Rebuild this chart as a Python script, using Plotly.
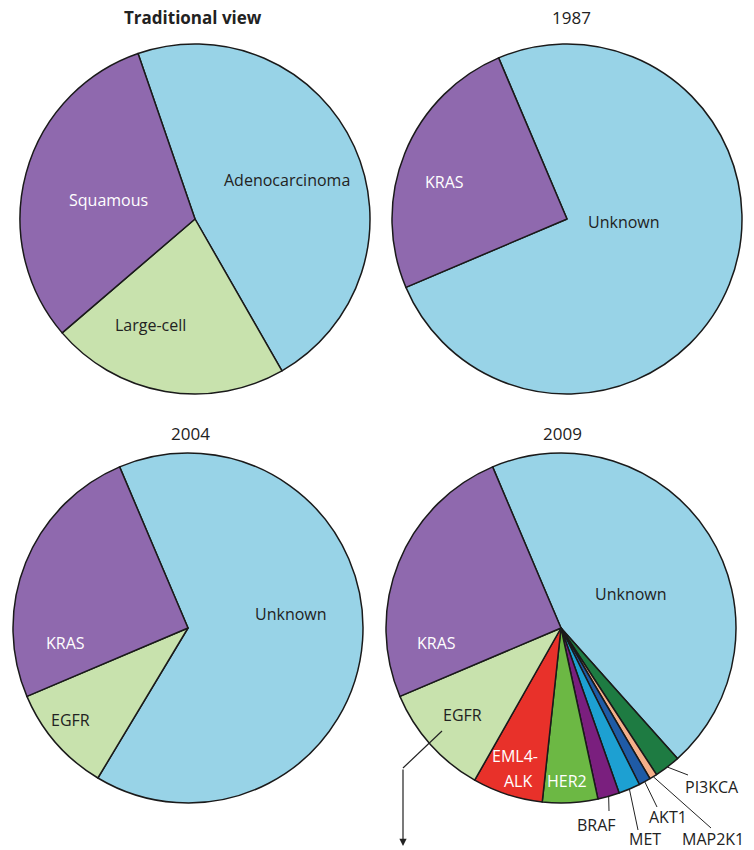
import math
import plotly.graph_objects as go

W, H = 754, 850

# ---------------- data ----------------
trad_labels = ["Adenocarcinoma", "Large-cell", "Squamous"]
trad_values = [47, 22, 31]

y1987_labels = ["Unknown", "KRAS"]
y1987_values = [75, 25]

y2004_labels = ["Unknown", "EGFR", "KRAS"]
y2004_values = [65, 10, 25]

y2009_labels = ["Unknown", "PI3KCA", "MAP2K1", "AKT1", "MET", "BRAF",
                "HER2", "EML4-ALK", "EGFR", "KRAS"]
y2009_values = [44.8, 2.4, 0.7, 1.1, 2.0, 2.0, 5.1, 6.5, 10.4, 25.0]

titles = ["Traditional view", "1987", "2004", "2009"]

# ---------------- styles ----------------
C_BLUE = "#98D3E7"
C_PURPLE = "#8F69AE"
C_LGREEN = "#C8E2AD"
colors = {
    "Adenocarcinoma": C_BLUE, "Unknown": C_BLUE,
    "Squamous": C_PURPLE, "KRAS": C_PURPLE,
    "Large-cell": C_LGREEN, "EGFR": C_LGREEN,
    "EML4-ALK": "#E8312A", "HER2": "#6CB844", "BRAF": "#7A1F7E",
    "MET": "#1DA0D2", "AKT1": "#1F5BA6", "MAP2K1": "#F5B08A",
    "PI3KCA": "#1E7B42",
}
FONT = "Open Sans"
FS = 16
R = 175
pies = [
    dict(labels=trad_labels, values=trad_values, cx=195, cy=219, rot=341),
    dict(labels=y1987_labels, values=y1987_values, cx=567, cy=219, rot=337),
    dict(labels=y2004_labels, values=y2004_values, cx=188, cy=628, rot=337),
    dict(labels=y2009_labels, values=y2009_values, cx=561, cy=628, rot=337),
]
title_pos = [(193, 17), (571, 18), (190, 433), (562, 433)]


def px(x, y):
    return x / W, 1 - y / H


fig = go.Figure()
for p in pies:
    x0, y1 = px(p["cx"] - R, p["cy"] - R)
    x1, y0 = px(p["cx"] + R, p["cy"] + R)
    fig.add_trace(go.Pie(
        labels=p["labels"], values=p["values"], sort=False,
        direction="clockwise", rotation=p["rot"],
        marker=dict(colors=[colors[l] for l in p["labels"]],
                    line=dict(color="#1a1a1a", width=1.5)),
        textinfo="none", domain=dict(x=[x0, x1], y=[y0, y1]),
        showlegend=False,
    ))

annotations = []


def label(t, x, y, color="#222", size=FS):
    X, Y = px(x, y)
    annotations.append(dict(
        x=X, y=Y, xref="paper", yref="paper", showarrow=False,
        xanchor="center", yanchor="middle", text=t,
        font=dict(family=FONT, size=size, color=color)))


for t, (x, y) in zip(titles, title_pos):
    label(f"<b>{t}</b>" if t == "Traditional view" else t, x, y, size=17)

# inside labels (text, x, y, color)
inside = [
    ("Squamous", 108, 200, "white"), ("Adenocarcinoma", 287, 180, "#222"),
    ("Large-cell", 150, 325, "#222"),
    ("KRAS", 444, 182, "white"), ("Unknown", 624, 222, "#222"),
    ("KRAS", 65, 643, "white"), ("EGFR", 70, 720, "#222"),
    ("Unknown", 291, 614, "#222"),
    ("KRAS", 436, 643, "white"), ("Unknown", 631, 594, "#222"),
    ("EGFR", 462, 715, "#222"),
    ("EML4-", 515, 756, "white"), ("ALK", 518, 781, "white"),
    ("HER2", 567, 781, "white"),
]
for t, x, y, c in inside:
    label(t, x, y, c)

# outside labels for 2009 with leader lines
p = pies[3]
total = sum(p["values"])
mid = {}
cum = 0
for l, v in zip(p["labels"], p["values"]):
    a = math.radians(p["rot"] + (cum + v / 2) / total * 360)
    mid[l] = (p["cx"] + R * math.sin(a), p["cy"] - R * math.cos(a))
    cum += v

outside = [  # label, text position, leader end
    ("BRAF", (596, 825), (609, 811)),
    ("MET", (645, 839), (638, 830)),
    ("AKT1", (668, 817), (657, 807)),
    ("MAP2K1", (713, 839), (711, 828)),
    ("PI3KCA", (712, 787), (688, 775)),
]
shapes = []
for l, (tx, ty), (ex, ey) in outside:
    sx, sy = mid[l]
    a0 = px(sx, sy)
    a1 = px(ex, ey)
    shapes.append(dict(type="line", xref="paper", yref="paper",
                       x0=a0[0], y0=a0[1], x1=a1[0], y1=a1[1],
                       line=dict(color="#222", width=1)))
    label(l, tx, ty)

# EGFR arrow
a0 = px(442, 731)
a1 = px(403, 768)
shapes.append(dict(type="line", xref="paper", yref="paper",
                   x0=a0[0], y0=a0[1], x1=a1[0], y1=a1[1],
                   line=dict(color="#222", width=1.2)))
tip = px(403, 846)
annotations.append(dict(x=tip[0], y=tip[1], xref="paper", yref="paper",
                        ax=0, ay=-78, showarrow=True, arrowhead=2,
                        arrowsize=1.2, arrowwidth=1.2, arrowcolor="#222",
                        text=""))

fig.update_layout(
    width=W, height=H, margin=dict(l=0, r=0, t=0, b=0),
    paper_bgcolor="white", plot_bgcolor="white",
    annotations=annotations, shapes=shapes, showlegend=False,
)
fig.write_html("out.html", config={"displayModeBar": False},
               post_script="document.body.style.margin='0';")
